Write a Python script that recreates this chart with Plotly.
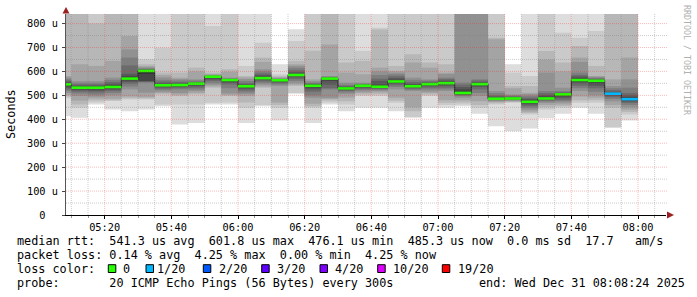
import plotly.graph_objects as go
import pandas as pd

# ---------------- data ----------------
day = "2025-12-31"
bar_end_times = ["05:10", "05:15", "05:20", "05:25", "05:30", "05:35", "05:40", "05:45",
                 "05:50", "05:55", "06:00", "06:05", "06:10", "06:15", "06:20", "06:25",
                 "06:30", "06:35", "06:40", "06:45", "06:50", "06:55", "07:00", "07:05",
                 "07:10", "07:15", "07:20", "07:25", "07:30", "07:35", "07:40", "07:45",
                 "07:50", "07:55", "08:00"]

# median rtt per 300s step (microseconds)
median_us = [546, 532, 532, 535, 570, 602, 542, 543, 549, 578, 564, 538, 572, 563, 585,
             540, 570, 529, 540, 536, 558, 538, 547, 551, 510, 547, 486, 487, 473, 487,
             504, 564, 561, 507, 484]

# lost pings (of 20) per step
loss_count = [0, 0, 0, 0, 0, 0, 0, 0, 0, 0, 0, 0, 0, 0, 0, 0, 0, 0, 0, 0, 0, 0, 0, 0, 0,
              0, 0, 0, 0, 0, 0, 0, 0, 1, 1]

# 20 sorted ping rtts per step (microseconds); 900 = above the graph limit
p0510 = [413, 488, 495, 502, 510, 518, 525, 532, 538, 543, 548, 552, 557, 562, 568, 575, 581, 900, 900, 900]
p0515 = [406, 448, 462, 478, 497, 507, 515, 521, 526, 530, 534, 537, 541, 546, 552, 560, 630, 900, 900, 900]
p0520 = [462, 470, 478, 487, 495, 503, 512, 519, 525, 529, 534, 537, 541, 546, 552, 560, 623, 800, 900, 900]
p0525 = [441, 476, 480, 486, 500, 510, 518, 524, 529, 533, 538, 543, 549, 556, 565, 574, 644, 900, 900, 900]
p0530 = [434, 483, 488, 495, 525, 537, 548, 556, 562, 567, 574, 580, 590, 625, 658, 692, 748, 900, 900, 900]
p0535 = [441, 483, 487, 492, 511, 553, 556, 558, 560, 590, 603, 605, 607, 610, 613, 617, 622, 630, 651, 900]
p0540 = [455, 462, 504, 510, 515, 522, 528, 533, 537, 540, 544, 547, 552, 558, 565, 575, 585, 595, 699, 900]
p0545 = [378, 462, 497, 503, 510, 525, 530, 535, 538, 541, 545, 547, 551, 556, 562, 568, 574, 595, 900, 900]
p0550 = [385, 462, 504, 510, 518, 525, 532, 538, 543, 547, 550, 552, 554, 557, 562, 567, 600, 616, 900, 900]
p0555 = [462, 469, 532, 538, 545, 552, 560, 566, 571, 575, 579, 580, 581, 582, 584, 586, 588, 595, 790, 900]
p0600 = [462, 470, 497, 502, 508, 530, 545, 552, 557, 561, 565, 566, 567, 569, 571, 574, 598, 609, 900, 900]
p0605 = [385, 448, 470, 497, 505, 512, 520, 527, 532, 536, 540, 542, 546, 552, 560, 568, 575, 581, 623, 900]
p0610 = [455, 460, 532, 537, 545, 552, 558, 563, 567, 570, 574, 578, 585, 592, 600, 609, 640, 658, 720, 900]
p0615 = [395, 448, 460, 470, 539, 545, 550, 555, 558, 561, 564, 565, 566, 567, 569, 572, 576, 580, 588, 630]
p0620 = [507, 510, 539, 545, 552, 560, 568, 575, 580, 583, 587, 590, 597, 605, 615, 623, 630, 644, 727, 776]
p0625 = [385, 448, 455, 465, 490, 500, 515, 525, 532, 537, 542, 545, 547, 550, 553, 560, 567, 686, 900, 900]
p0630 = [462, 470, 478, 485, 490, 525, 530, 545, 560, 567, 571, 572, 574, 576, 578, 581, 713, 900, 900, 900]
p0635 = [434, 462, 475, 490, 505, 512, 518, 522, 525, 527, 531, 533, 536, 540, 545, 553, 595, 637, 900, 900]
p0640 = [448, 497, 503, 510, 516, 522, 527, 531, 535, 538, 541, 542, 544, 546, 549, 553, 588, 644, 686, 900]
p0645 = [448, 497, 505, 512, 518, 523, 527, 530, 532, 534, 539, 545, 560, 570, 585, 600, 616, 775, 783, 900]
p0650 = [434, 469, 478, 490, 525, 535, 542, 548, 552, 555, 561, 565, 572, 580, 588, 595, 602, 623, 900, 900]
p0655 = [406, 410, 434, 450, 518, 523, 527, 531, 534, 536, 540, 544, 549, 556, 565, 574, 637, 672, 900, 900]
p0700 = [448, 497, 503, 510, 516, 525, 532, 538, 542, 545, 549, 551, 554, 558, 562, 567, 616, 637, 900, 900]
p0705 = [448, 460, 469, 480, 518, 525, 532, 540, 545, 549, 553, 557, 562, 568, 574, 590, 595, 630, 900, 900]
p0710 = [454, 462, 470, 480, 490, 497, 500, 503, 505, 507, 515, 525, 535, 545, 553, 900, 900, 900, 900, 900]
p0715 = [423, 448, 460, 475, 497, 510, 525, 535, 541, 545, 549, 552, 556, 562, 567, 900, 900, 900, 900, 900]
p0720 = [371, 462, 467, 472, 476, 479, 481, 483, 484, 485, 488, 490, 495, 500, 510, 518, 735, 741, 900, 900]
p0725 = [350, 469, 472, 475, 478, 480, 482, 484, 485, 486, 488, 490, 493, 496, 500, 504, 530, 539, 595, 630]
p0730 = [362, 420, 426, 432, 440, 448, 455, 462, 466, 470, 476, 480, 485, 490, 498, 505, 511, 539, 581, 900]
p0735 = [404, 441, 450, 460, 468, 474, 478, 481, 483, 485, 490, 495, 502, 510, 518, 595, 650, 685, 900, 900]
p0740 = [423, 448, 455, 462, 470, 476, 482, 490, 496, 501, 505, 507, 510, 513, 518, 532, 600, 637, 762, 900]
p0745 = [448, 469, 480, 495, 518, 530, 540, 550, 556, 561, 567, 572, 578, 585, 595, 640, 658, 706, 741, 900]
p0750 = [423, 469, 480, 490, 500, 515, 530, 540, 550, 556, 562, 564, 567, 570, 574, 578, 581, 623, 769, 900]
p0755 = [364, 368, 448, 460, 475, 485, 492, 497, 502, 505, 509, 511, 515, 522, 530, 539, 567, 900, 900, 900]
p0800 = [395, 420, 430, 440, 450, 460, 468, 474, 478, 481, 488, 492, 500, 510, 532, 567, 658, 900, 900, 900]

ping_rows = [p0510, p0515, p0520, p0525, p0530, p0535, p0540, p0545, p0550, p0555,
             p0600, p0605, p0610, p0615, p0620, p0625, p0630, p0635, p0640, p0645,
             p0650, p0655, p0700, p0705, p0710, p0715, p0720, p0725, p0730, p0735,
             p0740, p0745, p0750, p0755, p0800]

y_tick_values = [0, 100, 200, 300, 400, 500, 600, 700, 800]
y_tick_labels = ["0\u00a0\u00a0", "100 u", "200 u", "300 u", "400 u", "500 u", "600 u", "700 u", "800 u"]

loss_legend = [("0", "#26ff00"), ("1/20", "#00b8ff"), ("2/20", "#0059ff"), ("3/20", "#5e00ff"),
               ("4/20", "#7e00ff"), ("10/20", "#dd00ff"), ("19/20", "#ff0000")]

range_start = day + " 05:08:24"
range_end = day + " 08:08:24"
STEP_MS = 300000
Y_MAX = 840

# ---------------- figure ----------------
ends = pd.to_datetime([day + " " + t for t in bar_end_times])
starts = ends - pd.Timedelta(seconds=300)
centers = ends - pd.Timedelta(seconds=150)

fig = go.Figure()
npings = 20
half = npings // 2
for i in range(1, half + 1):
    shade = int(190 / half * (half - i)) + 50
    col = "#" + ("%02x" % shade) * 3
    lo = [row[i - 1] for row in ping_rows]
    hi = [row[npings - i] for row in ping_rows]
    fig.add_trace(go.Bar(x=centers, base=lo, y=[h - l for h, l in zip(hi, lo)],
                         width=STEP_MS, marker=dict(color=col, line=dict(width=0)),
                         opacity=1, hoverinfo="skip"))

# median step line
fig.add_trace(go.Scatter(x=list(starts) + [ends[-1]], y=median_us + [median_us[-1]],
                         mode="lines", line=dict(color="#202020", width=1, shape="hv"),
                         hoverinfo="skip"))


def loss_col(n):
    thresholds = [(0, "#26ff00"), (1, "#00b8ff"), (2, "#0059ff"), (3, "#5e00ff"),
                  (4, "#7e00ff"), (10, "#dd00ff"), (19, "#ff0000")]
    for t, c in thresholds:
        if n <= t:
            return c
    return "#ff0000"


groups = {}
for s, e, m, l in zip(starts, ends, median_us, loss_count):
    c = loss_col(l)
    gx, gy = groups.setdefault(c, ([], []))
    gx += [s, e, None]
    gy += [m, m, None]
for c, (gx, gy) in groups.items():
    fig.add_trace(go.Scatter(x=gx, y=gy, mode="lines", line=dict(color=c, width=2.6),
                             hoverinfo="skip"))

# grid drawn above the data, as rrdtool does
shapes = []
MINOR = dict(color="rgba(120,120,120,0.38)", width=1, dash="1px,1px")
MAJOR = dict(color="rgba(255,30,30,0.3)", width=1, dash="1px,1px")
for v in range(50, 801, 50):
    shapes.append(dict(type="line", xref="paper", yref="y", x0=0, x1=1.003, y0=v, y1=v,
                       line=MAJOR if v % 100 == 0 else MINOR, layer="above"))
grid_times = pd.date_range(day + " 05:10", day + " 08:05", freq="5min")
for t in grid_times:
    shapes.append(dict(type="line", xref="x", yref="paper", x0=t, x1=t, y0=0, y1=1,
                       line=MAJOR if t.minute % 20 == 0 else MINOR, layer="above"))

L, R, T, B = 66, 666, 14, 215


def px(x):
    return (x - L) / (R - L)


def py(y):
    return (B - y) / (B - T)


ARROW = "#9b2020"
shapes.append(dict(type="path", xref="paper", yref="paper", layer="above",
                   path="M %f,%f L %f,%f L %f,%f Z" % (px(62.5), py(13.5), px(69.5), py(13.5), px(66), py(7)),
                   fillcolor=ARROW, line=dict(width=0)))
shapes.append(dict(type="path", xref="paper", yref="paper", layer="above",
                   path="M %f,%f L %f,%f L %f,%f Z" % (px(667), py(211.5), px(667), py(218.5), px(674), py(215)),
                   fillcolor=ARROW, line=dict(width=0)))

annotations = []
MONO = "DejaVu Sans Mono"


def text(x, y, s, size=11.8, color="black", **kw):
    d = dict(xref="paper", yref="paper", x=px(x), y=py(y), text=s, showarrow=False,
             xanchor="left", yanchor="middle", borderpad=0,
             font=dict(family=MONO, size=size, color=color))
    d.update(kw)
    annotations.append(d)


text(15.5, 241, "median rtt:  541.3 us avg  601.8 us max  476.1 us min  485.3 us now  0.0 ms sd  17.7   am/s")
text(15.5, 255.3, "packet loss: 0.14 % avg  4.25 % max  0.00 % min  4.25 % now")
text(15.5, 269.3, "loss color:")
text(15.5, 283.3, "probe:       20 ICMP Echo Pings (56 Bytes) every 300s")
text(478, 283.3, "end: Wed Dec 31 08:08:24 2025")

box_left = [108.3, 146, 203.3, 261.7, 320, 377.7, 442.3]
label_left = [121.6, 156, 217.6, 275.5, 333.8, 392, 456.6]
for (lab, col), bx, lx in zip(loss_legend, box_left, label_left):
    shapes.append(dict(type="rect", xref="paper", yref="paper", layer="above",
                       x0=px(bx), x1=px(bx + 7.5), y0=py(272.5), y1=py(264.7),
                       fillcolor=col, line=dict(color="black", width=1)))
    text(lx, 269.3, lab)

text(11, 114, "Seconds", xanchor="center", textangle=-90)
text(687, 60, "RRDTOOL / TOBI OETIKER", size=8.3, color="#b0b0b0", xanchor="center", textangle=90)

fig.update_layout(
    width=697, height=297,
    margin=dict(l=L, r=697 - R, t=T, b=297 - B, pad=0),
    plot_bgcolor="white", paper_bgcolor="white",
    barmode="overlay", showlegend=False,
    font=dict(family=MONO, color="black"),
    shapes=shapes, annotations=annotations,
    xaxis=dict(type="date", range=[range_start, range_end], showgrid=False, zeroline=False,
               showline=True, linecolor="black", linewidth=1,
               ticks="outside", ticklen=3, tickcolor="black",
               tick0=day + " 05:00:00", dtick=1200000, tickformat="%H:%M",
               tickfont=dict(family=MONO, size=10.3, color="black"),
               minor=dict(tick0=day + " 05:00:00", dtick=STEP_MS, ticks="outside", ticklen=2,
                          tickcolor="#999999", showgrid=False)),
    yaxis=dict(range=[0, Y_MAX], showgrid=False, zeroline=False,
               showline=True, linecolor="#555555", linewidth=1,
               tickmode="array", tickvals=y_tick_values, ticktext=y_tick_labels,
               ticks="outside", ticklen=3, tickcolor="#444444", ticklabelstandoff=2,
               tickfont=dict(family=MONO, size=10.3, color="black")),
)

fig.write_html("out.html")
